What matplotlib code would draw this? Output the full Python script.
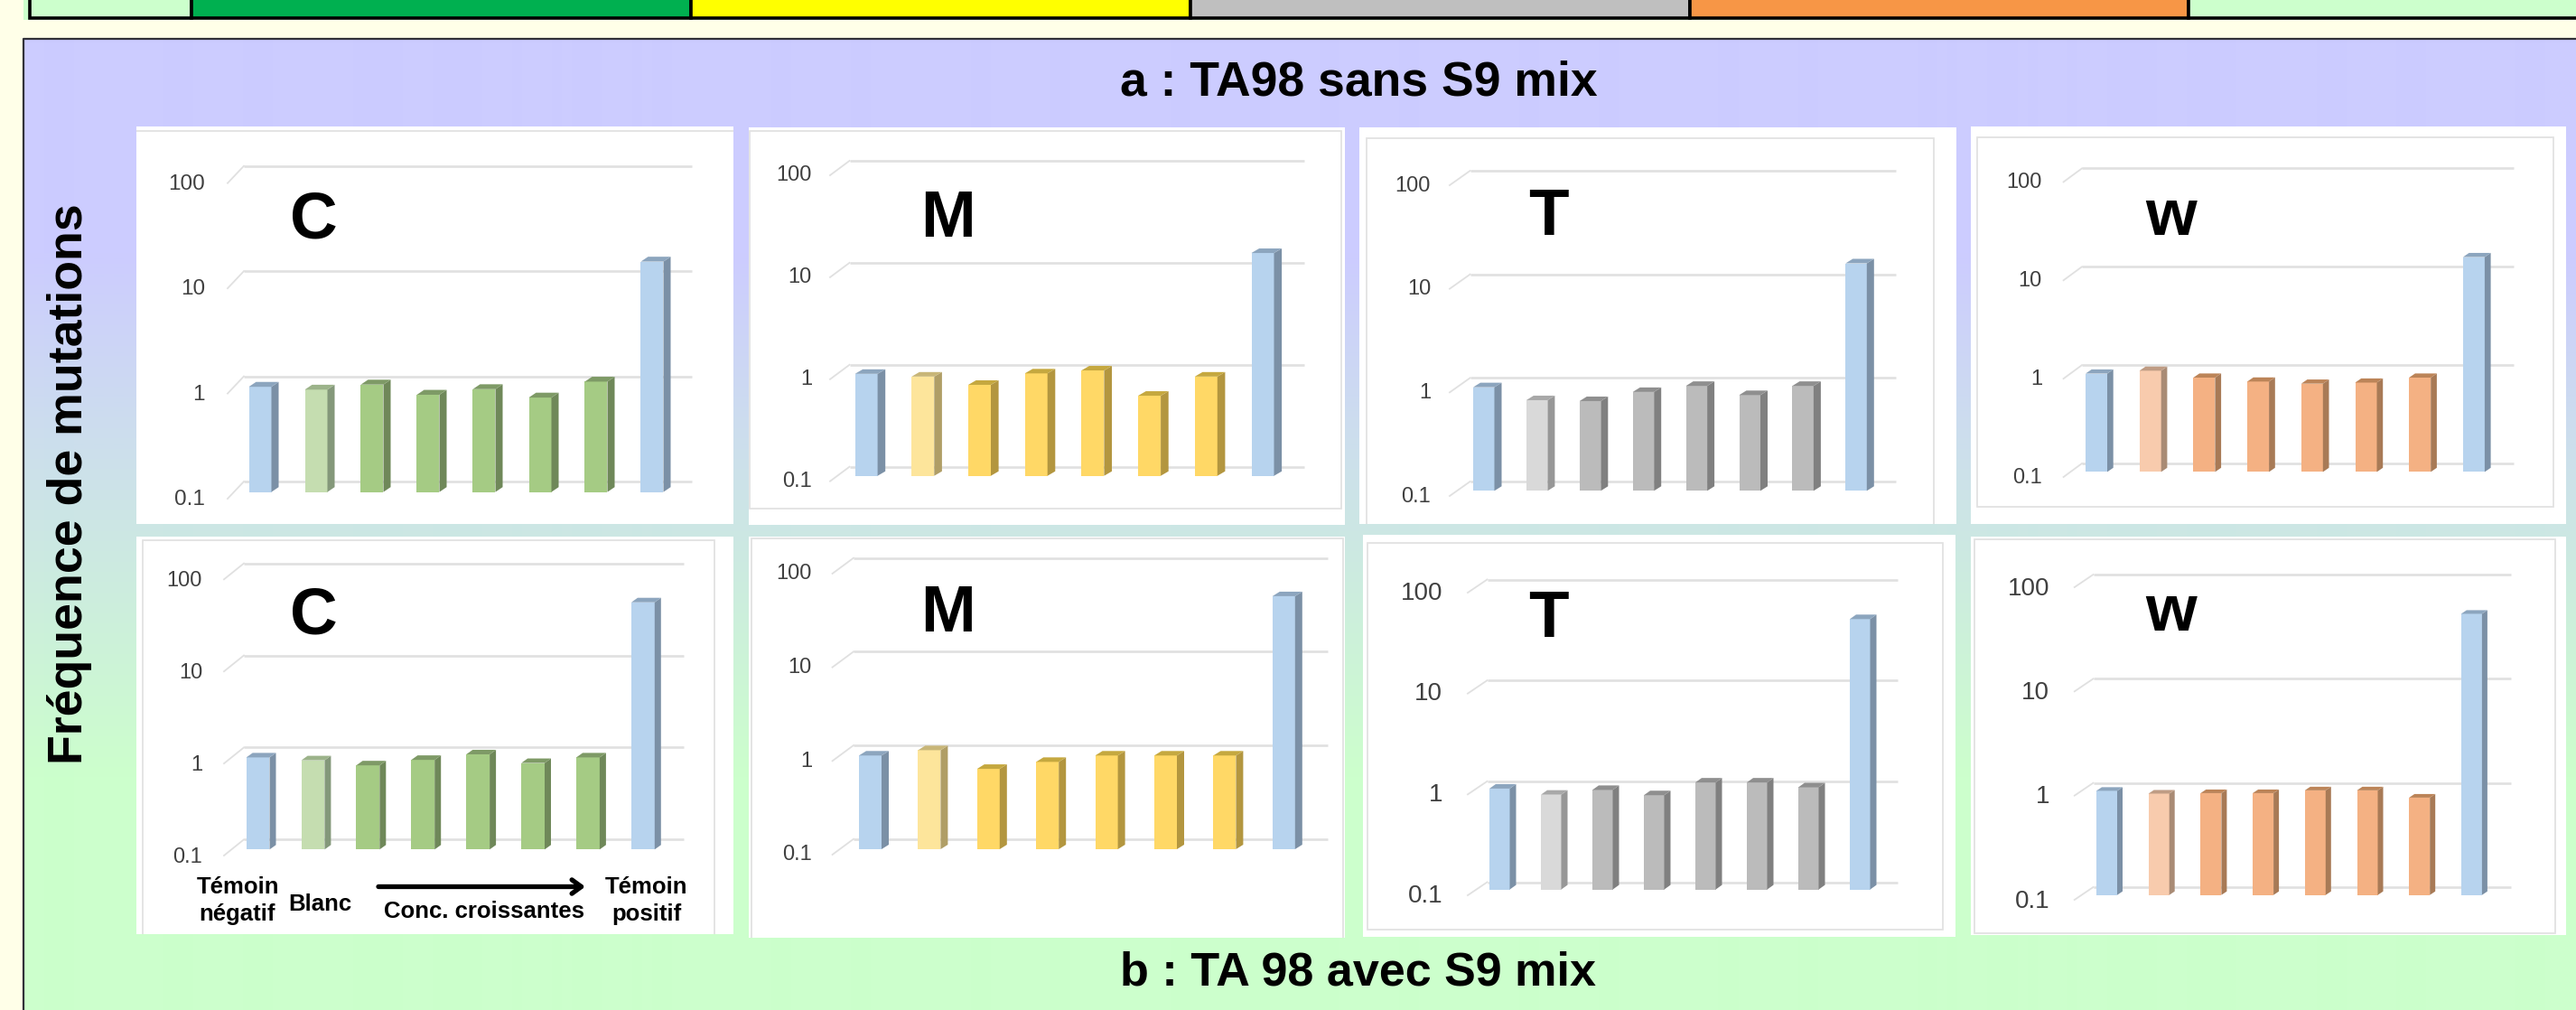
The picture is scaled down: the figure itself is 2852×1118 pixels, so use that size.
import numpy as np
import matplotlib
matplotlib.use('Agg')
import matplotlib.pyplot as plt
from matplotlib.patches import Rectangle
from matplotlib.transforms import Affine2D, IdentityTransform

W, H = 2852, 1118

# Valeurs (frequence de mutations)
c_sans = [1.0, 0.94, 1.05, 0.84, 0.95, 0.79, 1.12, 15.5]
m_sans = [1.0, 0.94, 0.78, 1.01, 1.08, 0.61, 0.94, 15.3]
t_sans = [1.0, 0.75, 0.735, 0.90, 1.03, 0.84, 1.03, 15.7]
w_sans = [1.0, 1.07, 0.91, 0.83, 0.79, 0.81, 0.91, 15.3]
c_avec = [1.0, 0.93, 0.82, 0.94, 1.08, 0.87, 1.0, 48.4]
m_avec = [1.0, 1.14, 0.72, 0.855, 1.0, 1.0, 1.0, 50.2]
t_avec = [1.0, 0.87, 0.97, 0.86, 1.15, 1.15, 1.03, 47.9]
w_avec = [1.0, 0.94, 0.95, 0.95, 1.01, 1.01, 0.86, 50.0]

tick_vals = [0.1, 1, 10, 100]
tick_labels = ['0.1', '1', '10', '100']

BLUE = ('#B7D3EE', '#7B90A6', '#8CA5BE')
GREEN = (('#C5DDB0', '#84987A', '#9CB38A'), ('#A5CB84', '#6F8859', '#7E9A66'))
YELLOW = (('#FDE59B', '#B09E66', '#C8B678'), ('#FFD866', '#B3963F', '#C5A83F'))
GREY = (('#D9D9D9', '#979797', '#A8A8A8'), ('#BBBBBB', '#808080', '#8F8F8F'))
ORANGE = (('#F8CBAD', '#A98B75', '#BF9C84'), ('#F4B183', '#A87A56', '#BC8458'))

# lettre, valeurs, couleurs, boite blanche, cadre gris, x: gauche diag, debut grille, fin grille
# y: grille 100, grille 0.1, base barres, bas diag ; barres: 1ere gauche, pas, largeur, cote, dessus
# etiquettes: bord droit, decalage y, taille ; lettre: x, ligne de base
panels = [
    dict(name='C', vals=c_sans, col=GREEN, box=(151, 140, 812, 580), inner=(140, 145, 830, 600),
         gx=(252, 270, 766), gy=(183.7, 533, 544.6, 552), bar=(275.5, 62, 25, 8, 5.4), lab=(227, 6, 17.5), let=(347, 263)),
    dict(name='M', vals=m_sans, col=YELLOW, box=(829, 141, 1489, 581), inner=(830, 145, 1485, 563),
         gx=(919, 940.5, 1444), gy=(178, 516.7, 526.7, 532.7), bar=(946.6, 62.7, 25, 8.6, 5), lab=(899, 4, 17), let=(1050, 262)),
    dict(name='T', vals=t_sans, col=GREY, box=(1505, 141, 2166, 580), inner=(1513, 153, 2141, 600),
         gx=(1605, 1627.6, 2098.5), gy=(189, 533, 543.3, 549), bar=(1631, 58.9, 23.5, 8, 5), lab=(1584, 4, 17), let=(1714.5, 260)),
    dict(name='w', vals=w_sans, col=ORANGE, box=(2182, 140, 2841, 580), inner=(2189, 152, 2827, 561),
         gx=(2284.6, 2305, 2783), gy=(186.4, 513, 522.4, 528), bar=(2309, 59.7, 24, 6.7, 4.6), lab=(2261, 4, 17), let=(2403.6, 260)),
    dict(name='C', vals=c_avec, col=GREEN, box=(151, 594, 812, 1034), inner=(158, 598, 791, 1045),
         gx=(248, 270, 757), gy=(623.6, 929.3, 940.3, 947), bar=(272.7, 60.9, 25.8, 7, 5), lab=(224, 6, 17), let=(347, 701)),
    dict(name='M', vals=m_avec, col=YELLOW, box=(829, 594, 1489, 1038), inner=(832, 596, 1487, 1050),
         gx=(921.6, 945, 1470), gy=(617.6, 928.7, 940, 946), bar=(951, 65.4, 25, 8, 5), lab=(899, 4, 17), let=(1050, 699)),
    dict(name='T', vals=t_avec, col=GREY, box=(1509, 592, 2165, 1037), inner=(1514, 601, 2151, 1029),
         gx=(1625, 1646.5, 2101), gy=(641.5, 976.5, 984.6, 991), bar=(1649, 57, 22.5, 7, 5), lab=(1597, 4, 20), let=(1714.5, 705)),
    dict(name='w', vals=w_avec, col=ORANGE, box=(2182, 594, 2841, 1035), inner=(2186, 597, 2829, 1033),
         gx=(2296.8, 2317.5, 2780), gy=(636, 982, 990.7, 996), bar=(2321, 57.7, 23, 6, 4), lab=(2269, 4, 20), let=(2403.6, 698)),
]

plt.rcParams['font.family'] = ['Liberation Sans', 'DejaVu Sans']

fig = plt.figure(figsize=(W / 100, H / 100), dpi=100, facecolor='#FFFFE8')

# fond en pixels, origine en haut a gauche
bg = fig.add_axes([0, 0, 1, 1])
bg.set_xlim(0, W)
bg.set_ylim(H, 0)
bg.axis('off')

# degrade du cadre principal
t = np.clip((np.arange(43, H) - 280) / 580, 0, 1)[:, None, None]
grad = (1 - t) * np.array([0.8, 0.8, 1.0]) + t * np.array([0.8, 1.0, 0.8])
bg.imshow(grad, extent=(27, W, H, 43), aspect='auto', zorder=1, interpolation='bilinear')
bg.set_xlim(0, W)
bg.set_ylim(H, 0)
bg.plot([26, 26, W], [H, 42.5, 42.5], color='#303038', lw=1.6, zorder=2)

# bandeau du haut
bg.add_patch(Rectangle((26, 0), W - 26, 22, fc='#CCFFCC', ec='none', zorder=1))
cell_x = [33, 212, 765, 1318, 1871, 2423, W + 5]
cell_c = ['#CCFFCC', '#00B050', '#FFFF00', '#BFBFBF', '#F79646', '#CCFFCC']
for i in range(6):
    bg.add_patch(Rectangle((cell_x[i], -5), cell_x[i + 1] - cell_x[i], 24.5, fc=cell_c[i], ec='k', lw=2.6, zorder=2))

bg.text(1504, 91, 'a : TA98 sans S9 mix', fontsize=38.5, fontweight='bold', ha='center', va='center', zorder=5)
bg.text(1504, 1077, 'b : TA 98 avec S9 mix', fontsize=37.5, fontweight='bold', ha='center', va='center', zorder=5)
bg.text(77, 536, 'Fréquence de mutations', fontsize=38.6, fontweight='bold', rotation=90, ha='center', va='center', zorder=5)

for p in panels:
    x0, y0, x1, y1 = p['box']
    box = Rectangle((x0, y0), x1 - x0, y1 - y0, fc='white', ec='none', zorder=3)
    bg.add_patch(box)
    ix0, iy0, ix1, iy1 = p['inner']
    frame = Rectangle((ix0, iy0), ix1 - ix0, iy1 - iy0, fc='none', ec='#E2E2E2', lw=1.3, zorder=3.5)
    bg.add_patch(frame)
    frame.set_clip_path(box)

    L, gl, R = p['gx']
    g100, g01, base, dbot = p['gy']
    first, pitch, bw, sw, tw = p['bar']
    decade = (g01 - g100) / 3
    # axes = plan avant des barres
    ax = fig.add_axes([L / W, 1 - base / H, (R - L) / W, 3 * decade / H])
    ax.patch.set_visible(False)
    for s in ax.spines.values():
        s.set_visible(False)
    ax.set_yscale('log')
    ax.set_ylim(0.1, 100)
    c0 = first + bw / 2
    ax.set_xlim((L - c0) / pitch, (R - c0) / pitch)
    ax.set_xticks([])
    ax.set_yticks(tick_vals)
    ax.set_yticklabels(tick_labels)
    ax.minorticks_off()
    ax.tick_params(axis='y', which='both', length=0, pad=(L - p['lab'][0]) * 0.72,
                   labelsize=p['lab'][2], labelcolor='#404040')
    shift = Affine2D().translate(0, -p['lab'][1])
    for lab in ax.get_yticklabels():
        lab.set_transform(lab.get_transform() + shift)

    # quadrillage sur le plan arriere
    up = base - g01
    down = dbot - base
    for v in tick_vals:
        py = ax.transData.transform((0, v))[1]
        ax.plot([gl, R], [py + up, py + up], transform=IdentityTransform(), color='#E0E0E0', lw=1.9,
                clip_on=False, zorder=1, solid_capstyle='butt')
        ax.plot([L, gl], [py - down, py + up], transform=IdentityTransform(), color='#E0E0E0', lw=1.3,
                clip_on=False, zorder=1)

    # barres: face avant par bar(), cote et dessus en pixels a partir des echelles
    light, full = p['col']
    cols = [BLUE, light, full, full, full, full, full, BLUE]
    xs = np.arange(8)
    ax.bar(xs, np.array(p['vals']) - 0.1, bottom=0.1, width=bw / pitch, color=[c[0] for c in cols], zorder=3)
    for i, v in enumerate(p['vals']):
        rx, py0 = ax.transData.transform((i + bw / pitch / 2, 0.1))
        py1 = ax.transData.transform((i, v))[1]
        lx = rx - bw
        ax.fill([rx, rx + sw, rx + sw, rx], [py0, py0 + tw, py1 + tw, py1], transform=IdentityTransform(),
                color=cols[i][1], lw=0, clip_on=False, zorder=3)
        ax.fill([lx, lx + sw, rx + sw, rx], [py1, py1 + tw, py1 + tw, py1], transform=IdentityTransform(),
                color=cols[i][2], lw=0, clip_on=False, zorder=3)

    fig.text(p['let'][0] / W, 1 - p['let'][1] / H, p['name'], fontsize=52.5, fontweight='bold',
             ha='center', va='baseline', zorder=10)

# legende de l'axe x sous le panneau C du bas
txt = dict(fontsize=18.5, fontweight='bold', ha='center', va='center', zorder=5, linespacing=1.32)
bg.text(263, 997, 'Témoin\nnégatif', **txt)
bg.text(354, 1001, 'Blanc', **txt)
bg.text(535.6, 1009, 'Conc. croissantes', **txt)
bg.text(716, 997, 'Témoin\npositif', **txt)
bg.annotate('', xy=(648, 981.5), xytext=(419, 981.5), zorder=5,
            arrowprops=dict(arrowstyle='->,head_length=0.75,head_width=0.55', lw=3.8, color='k',
                            shrinkA=0, shrinkB=0))

fig.savefig('out.png', dpi=100, facecolor=fig.get_facecolor())
